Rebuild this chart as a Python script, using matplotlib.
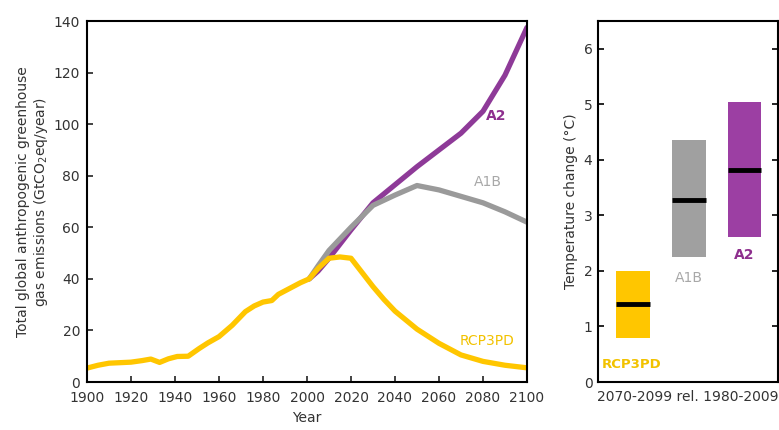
import numpy as np
import matplotlib.pyplot as plt

plt.rcParams['font.family'] = ['DejaVu Sans']

# historical emissions (GtCO2eq/year), shared by all scenarios
hist_years = [1900, 1905, 1910, 1915, 1920, 1925, 1929, 1933, 1937, 1941, 1946,
              1951, 1955, 1960, 1966, 1972, 1976, 1980, 1984, 1987, 1991, 1997, 2001]
hist_vals = [5.4, 6.5, 7.3, 7.5, 7.7, 8.3, 8.9, 7.6, 9.0, 9.9, 10.0,
             13.0, 15.2, 17.6, 22.0, 27.3, 29.5, 31.0, 31.6, 34.0, 35.8, 38.5, 40.0]

# scenario projections
scen_years = [2001, 2005, 2010, 2020, 2030, 2040, 2050, 2060, 2070, 2080, 2090, 2100]
a2_vals = [40.0, 43.0, 48.0, 59.0, 69.5, 76.5, 83.5, 90.0, 96.5, 105.0, 119.0, 137.5]
a1b_vals = [40.0, 45.0, 51.0, 60.0, 68.5, 72.5, 76.2, 74.5, 72.0, 69.5, 66.0, 62.0]
rcp_years = [2001, 2005, 2010, 2015, 2020, 2025, 2030, 2035, 2040, 2050, 2060, 2070, 2080, 2090, 2100]
rcp_vals = [40.0, 44.0, 48.0, 48.5, 48.0, 42.5, 37.0, 32.0, 27.5, 20.5, 15.0, 10.5, 8.0, 6.5, 5.5]

# temperature change 2070-2099 rel. 1980-2009 (deg C)
bar_names = ['RCP3PD', 'A1B', 'A2']
bar_low = [0.8, 2.25, 2.62]
bar_high = [2.0, 4.35, 5.05]
bar_mid = [1.4, 3.27, 3.82]

yellow = '#FFC600'
purple = '#8E3A98'
gray = '#9A9A9A'
bar_colors = [yellow, '#A0A0A0', '#9C3FA3']
label_colors = ['#F2C200', '#A8A8A8', '#8E2F8E']

fig = plt.figure(figsize=(7.79, 4.30), dpi=100)

# left panel: emissions
ax = fig.add_axes([0.1117, 0.1116, 0.5648, 0.8395])
lw = 3.8
ax.plot(scen_years, a2_vals, color=purple, lw=lw, solid_capstyle='round')
ax.plot(scen_years, a1b_vals, color=gray, lw=lw, solid_capstyle='round')
ax.plot(hist_years + rcp_years[1:], hist_vals + rcp_vals[1:], color=yellow, lw=lw,
        solid_capstyle='round', solid_joinstyle='round')

ax.set_xlim(1900, 2100)
ax.set_ylim(0, 140)
ax.set_xticks(np.arange(1900, 2101, 20))
ax.set_yticks(np.arange(0, 141, 20))
ax.tick_params(direction='in', length=4, width=1.2, labelsize=10, colors='#222222',
               labelcolor='#333333', pad=4)
ax.tick_params(axis='x', pad=6.5)
ax.tick_params(axis='y', pad=5)
for s in ax.spines.values():
    s.set_linewidth(1.5)
ax.set_xlabel('Year', fontsize=10, color='#333333', labelpad=4)
ax.set_ylabel('Total global anthropogenic greenhouse\ngas emissions (GtCO$_2$eq/year)',
              fontsize=10, color='#333333', labelpad=3, linespacing=1.1)

ax.text(2086, 103, 'A2', color='#8E2F8E', fontsize=10, fontweight='bold',
        ha='center', va='center')
ax.text(2082, 77.5, 'A1B', color='#A8A8A8', fontsize=10, ha='center', va='center')
ax.text(2082, 16, 'RCP3PD', color='#F2C200', fontsize=10, ha='center', va='center')

# right panel: temperature change
bx = fig.add_axes([0.7677, 0.1116, 0.231, 0.8395])
pos = np.arange(1, len(bar_names) + 1)
bx.bar(pos, np.array(bar_high) - np.array(bar_low), bottom=bar_low, width=0.6,
       color=bar_colors)
for p, m in zip(pos, bar_mid):
    bx.plot([p - 0.3, p + 0.3], [m, m], color='black', lw=3.5, solid_capstyle='butt')

bx.text(pos[0] - 0.02, 0.25, bar_names[0], color=label_colors[0], fontsize=9.5,
        fontweight='bold', ha='center')
bx.text(pos[1], bar_low[1] - 0.45, bar_names[1], color=label_colors[1], fontsize=10,
        ha='center')
bx.text(pos[2], bar_low[2] - 0.4, bar_names[2], color=label_colors[2], fontsize=10,
        fontweight='bold', ha='center')

bx.set_xlim(0.37, 3.6)
bx.set_ylim(0, 6.5)
bx.set_xticks([])
bx.set_yticks(range(0, 7))
bx.tick_params(axis='y', direction='in', length=4, width=1.2, right=True,
               labelsize=10, labelcolor='#333333', pad=4)
for s in bx.spines.values():
    s.set_linewidth(1.5)
bx.set_xlabel('2070-2099 rel. 1980-2009', fontsize=10, color='#333333', labelpad=6)
bx.set_ylabel('Temperature change (\u00b0C)', fontsize=10, color='#333333', labelpad=4)

fig.savefig('out.png', dpi=100)
